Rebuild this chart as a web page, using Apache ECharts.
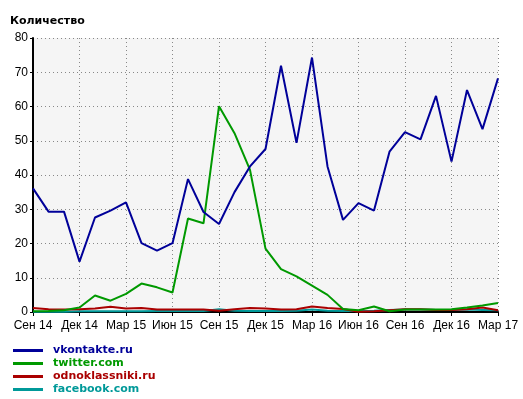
<!DOCTYPE html>
<html>
<head>
<meta charset="utf-8">
<script src="https://cdn.jsdelivr.net/npm/echarts@6/dist/echarts.min.js"></script>
<style>
html, body { margin: 0; padding: 0; background: #fff; }
#chart { width: 523px; height: 399px; }
</style>
</head>
<body>
<div id="chart"></div>
<script>
var months = ['Сен 14', 'Окт 14', 'Ноя 14', 'Дек 14', 'Янв 15', 'Фев 15', 'Мар 15', 'Апр 15', 'Май 15', 'Июн 15',
    'Июл 15', 'Авг 15', 'Сен 15', 'Окт 15', 'Ноя 15', 'Дек 15', 'Янв 16', 'Фев 16', 'Мар 16', 'Апр 16',
    'Май 16', 'Июн 16', 'Июл 16', 'Авг 16', 'Сен 16', 'Окт 16', 'Ноя 16', 'Дек 16', 'Янв 17', 'Фев 17', 'Мар 17'];

var vkontakte = [36.1, 29.3, 29.3, 14.7, 27.6, 29.6, 32.0, 20.1, 17.9, 20.1,
    38.8, 29.2, 25.7, 35.0, 42.5, 47.6, 71.9, 49.4, 74.3, 42.5,
    26.9, 31.8, 29.6, 46.8, 52.5, 50.4, 63.1, 43.9, 64.8, 53.4, 68.2];
var twitter = [0.2, 0.3, 0.5, 1.3, 4.8, 3.3, 5.3, 8.3, 7.2, 5.7,
    27.3, 25.9, 60.1, 52.2, 41.5, 18.5, 12.5, 10.4, 7.7, 5.0,
    0.9, 0.5, 1.6, 0.2, 0.7, 0.7, 0.7, 0.8, 1.3, 1.9, 2.6];
var odnoklassniki = [1.2, 0.8, 0.7, 0.8, 1.0, 1.5, 1.0, 1.2, 0.7, 0.7,
    0.7, 0.7, 0.4, 0.8, 1.2, 1.0, 0.7, 0.8, 1.6, 1.2,
    0.9, 0.1, 0.2, 0.5, 0.8, 0.8, 0.6, 0.6, 0.8, 1.3, 0.5];
var facebook = [0.1, 0.1, 0.1, 0.2, 0.2, 0.2, 0.2, 0.2, 0.3, 0.3,
    0.3, 0.3, 0.8, 0.4, 0.3, 0.3, 0.3, 0.4, 0.7, 0.4,
    0.3, 0.3, 0.4, 0.6, 0.7, 0.7, 0.6, 0.6, 0.7, 0.6, 0.5];
var yTicks = [0, 10, 20, 30, 40, 50, 60, 70, 80];

var chart = echarts.init(document.getElementById('chart'));

var option = {
    animation: false,
    backgroundColor: '#fff',
    title: {
        text: 'Количество',
        left: 5,
        top: 11,
        textStyle: {
            fontFamily: 'DejaVu Sans',
            fontWeight: 'bold',
            fontSize: 11,
            color: '#000'
        }
    },
    grid: {
        left: 33,
        right: 25,
        top: 38,
        bottom: 87,
        show: true,
        backgroundColor: '#f5f5f5',
        borderWidth: 0
    },
    legend: {
        orient: 'vertical',
        left: 8,
        top: 339,
        height: 70,
        itemWidth: 30,
        itemHeight: 3,
        itemGap: 0,
        icon: 'rect',
        textStyle: {
            fontFamily: 'DejaVu Sans',
            fontWeight: 'bold',
            fontSize: 11,
            lineHeight: 13,
            padding: [0, 0, 0, 5]
        },
        data: [
            {name: 'vkontakte.ru', textStyle: {color: '#000099'}},
            {name: 'twitter.com', textStyle: {color: '#009900'}},
            {name: 'odnoklassniki.ru', textStyle: {color: '#aa0000'}},
            {name: 'facebook.com', textStyle: {color: '#009999'}}
        ]
    },
    xAxis: {
        type: 'category',
        boundaryGap: false,
        data: months,
        axisLine: {lineStyle: {color: '#000', width: 2}},
        axisTick: {show: true, interval: 2, length: 4, lineStyle: {color: '#000'}},
        axisLabel: {
            interval: 2,
            color: '#000',
            fontFamily: 'Liberation Sans',
            fontSize: 12,
            margin: 8
        },
        splitLine: {
            show: true,
            interval: 2,
            lineStyle: {color: '#888', type: [1, 3]}
        }
    },
    yAxis: {
        type: 'value',
        min: 0,
        max: 80,
        interval: 10,
        axisLine: {show: true, lineStyle: {color: '#000', width: 2}},
        axisTick: {show: true, length: 3, lineStyle: {color: '#000'}},
        axisLabel: {
            color: '#000',
            fontFamily: 'Liberation Sans',
            fontSize: 12,
            margin: 5,
            formatter: function (v) { return yTicks.indexOf(v) >= 0 ? String(v) : ''; }
        },
        splitLine: {
            show: true,
            lineStyle: {color: '#888', type: [1, 3]}
        }
    },
    series: [
        {name: 'facebook.com', type: 'line', data: facebook, showSymbol: false,
            lineStyle: {width: 2, color: '#009999'}, itemStyle: {color: '#009999'}},
        {name: 'odnoklassniki.ru', type: 'line', data: odnoklassniki, showSymbol: false,
            lineStyle: {width: 2, color: '#aa0000'}, itemStyle: {color: '#aa0000'}},
        {name: 'twitter.com', type: 'line', data: twitter, showSymbol: false,
            lineStyle: {width: 2, color: '#009900'}, itemStyle: {color: '#009900'}},
        {name: 'vkontakte.ru', type: 'line', data: vkontakte, showSymbol: false,
            lineStyle: {width: 2, color: '#000099'}, itemStyle: {color: '#000099'}}
    ]
};

chart.setOption(option);
</script>
</body>
</html>
